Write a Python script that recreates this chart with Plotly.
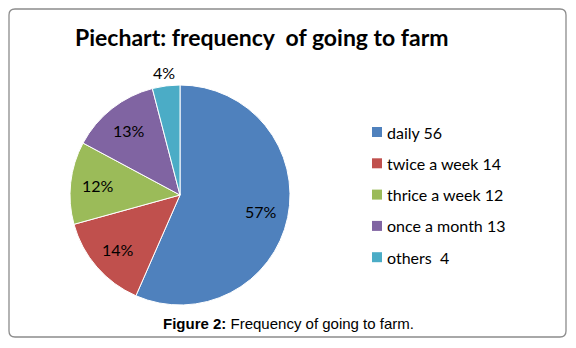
import math
import plotly.graph_objects as go

categories = ["daily", "twice a week", "thrice a week", "once a month", "others"]
values = [56, 14, 12, 13, 4]
legend_labels = ["daily 56", "twice a week 14", "thrice a week 12", "once a month 13", "others\u00a0 4"]
colors = ["#4F81BD", "#C0504D", "#9BBB59", "#8064A2", "#4BACC6"]
title_text = "Piechart: frequency\u00a0 of going to farm"
caption_text = "<b>Figure 2:</b> Frequency of going to farm."

W, H = 576, 348
def px(x):
    return x / W
def py(y):
    return 1 - y / H

# pie placement (pixels)
CX, CY, R = 180, 195, 110

fig = go.Figure()
fig.add_trace(go.Pie(
    labels=categories,
    values=values,
    sort=False,
    direction="clockwise",
    rotation=0,
    marker=dict(colors=colors, line=dict(color="white", width=1)),
    textinfo="none",
    showlegend=False,
    hoverinfo="label+value+percent",
    domain=dict(x=[px(CX - R), px(CX + R)], y=[py(CY + R), py(CY - R)]),
))

shapes = []
# rounded border box
x0, x1, y0, y1, r = 9, 566, 9, 337, 6
path = (f"M {px(x0+r)},{py(y0)} L {px(x1-r)},{py(y0)} Q {px(x1)},{py(y0)} {px(x1)},{py(y0+r)} "
        f"L {px(x1)},{py(y1-r)} Q {px(x1)},{py(y1)} {px(x1-r)},{py(y1)} "
        f"L {px(x0+r)},{py(y1)} Q {px(x0)},{py(y1)} {px(x0)},{py(y1-r)} "
        f"L {px(x0)},{py(y0+r)} Q {px(x0)},{py(y0)} {px(x0+r)},{py(y0)} Z")
shapes.append(dict(type="path", xref="paper", yref="paper", path=path,
                   line=dict(color="#8C8C8C", width=1.3), fillcolor="rgba(0,0,0,0)"))

annotations = []

# percentage labels computed from the values (Excel-like placement)
total = sum(values)
cum = 0
for i, v in enumerate(values):
    frac = v / total
    mid = (cum + frac / 2) * 2 * math.pi
    cum += frac
    rf = 0.75 if frac > 0.05 else 1.12
    lx = CX + rf * R * math.sin(mid)
    ly = CY - rf * R * math.cos(mid)
    annotations.append(dict(text=f"{round(frac * 100)}%", xref="paper", yref="paper",
                            x=px(lx), y=py(ly), xanchor="center", yanchor="middle",
                            showarrow=False,
                            font=dict(family="Lato", size=16, color="#000000")))

row0, gap = 132, 31.3
for i, (lab, col) in enumerate(zip(legend_labels, colors)):
    yc = row0 + i * gap
    shapes.append(dict(type="rect", xref="paper", yref="paper",
                       x0=px(372), x1=px(382), y0=py(yc + 5), y1=py(yc - 5),
                       fillcolor=col, line=dict(width=0)))
    annotations.append(dict(text=lab, xref="paper", yref="paper", x=px(385), y=py(yc),
                            xanchor="left", yanchor="middle", showarrow=False,
                            font=dict(family="Lato", size=16, color="#000000")))

annotations.append(dict(text=f"<b>{title_text}</b>", xref="paper", yref="paper",
                        x=px(262), y=py(37), xanchor="center", yanchor="middle", showarrow=False,
                        font=dict(family="Lato", size=23, color="#000000")))
annotations.append(dict(text=caption_text, xref="paper", yref="paper",
                        x=px(288), y=py(323), xanchor="center", yanchor="middle", showarrow=False,
                        font=dict(family="Liberation Sans", size=15, color="#000000")))

fig.update_layout(
    width=W, height=H,
    margin=dict(l=0, r=0, t=0, b=0),
    paper_bgcolor="white", plot_bgcolor="white",
    shapes=shapes, annotations=annotations,
)

fig.write_html("out.html", config={"displayModeBar": False},
               post_script="document.body.style.margin='0';document.body.style.padding='0';")
